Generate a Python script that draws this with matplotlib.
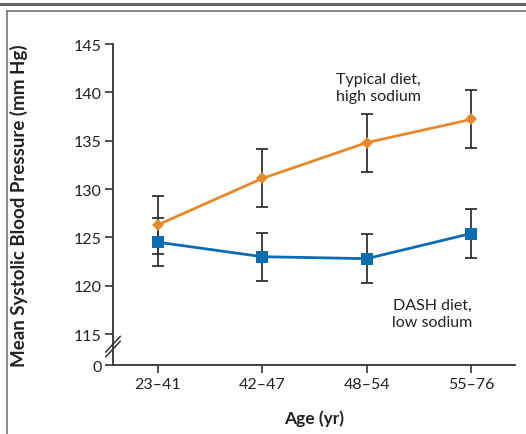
import matplotlib
matplotlib.use("Agg")
import matplotlib.pyplot as plt
from matplotlib.lines import Line2D

plt.rcParams['font.family'] = ['Lato', 'DejaVu Sans']

# ---- data ----
age_groups = ["23\u201341", "42\u201347", "48\u201354", "55\u201376"]
typical_high = [126.3, 131.1, 134.8, 137.2]
typical_err = [3.0, 3.0, 3.0, 3.0]
dash_low = [124.5, 123.0, 122.8, 125.4]
dash_err = [2.5, 2.5, 2.5, 2.5]
ytick_values = [115, 120, 125, 130, 135, 140, 145]
ytick_labels = ["115", "120", "125", "130", "135", "140", "145"]
zero_label = "0"

# position on the broken axis where the "0" baseline is drawn
BREAK_BASE = 111.8

orange = "#E38B2C"
blue = "#0A6CB1"
dark = "#333333"

fig = plt.figure(figsize=(5.26, 4.35), dpi=100)

# frame lines
fig.add_artist(Line2D([0, 1], [1 - 5/435, 1 - 5/435], color="#666666", lw=2.2))
fig.add_artist(Line2D([7/526, 1], [1 - 12/435, 1 - 12/435], color="#777777", lw=1.2))
fig.add_artist(Line2D([7/526, 7/526], [0, 1 - 12/435], color="#777777", lw=1.2))

ax = fig.add_axes([113/526, 69/435, 402/526, 321/435])
x = list(range(len(age_groups)))

ax.errorbar(x, typical_high, yerr=typical_err, fmt='none', ecolor=dark,
            elinewidth=1.3, capsize=4, capthick=1.3, zorder=2)
ax.errorbar(x, dash_low, yerr=dash_err, fmt='none', ecolor=dark,
            elinewidth=1.3, capsize=4, capthick=1.3, zorder=2)
ax.plot(x, typical_high, color=orange, lw=2, marker='D', markersize=6.5,
        markeredgewidth=0, zorder=3)
ax.plot(x, dash_low, color=blue, lw=2, marker='s', markersize=9,
        markeredgewidth=0, zorder=3)

ax.set_xlim(-0.43, 3.42)
ax.set_ylim(BREAK_BASE, 145)
ax.set_xticks(x)
ax.set_xticklabels(age_groups)
ax.set_yticks([BREAK_BASE] + ytick_values)
ax.set_yticklabels([zero_label] + ytick_labels)

for s in ["top", "right"]:
    ax.spines[s].set_visible(False)
for s in ["left", "bottom"]:
    ax.spines[s].set_color(dark)
    ax.spines[s].set_linewidth(1.3)
ax.tick_params(axis='both', colors=dark, labelcolor="#222222", labelsize=11.5,
               width=1.2, length=6, direction='out')
ax.tick_params(axis='x', pad=3)
ax.tick_params(axis='y', pad=2)

# axis break marks (two short parallel slashes across the y axis)
for dy in (-0.25, 0.25):
    ax.plot([-0.018, 0.018], [113.7 + dy - 0.8, 113.7 + dy + 0.8], color=dark,
            lw=1.1, transform=ax.get_yaxis_transform(), clip_on=False, zorder=5)

ax.set_ylabel("Mean Systolic Blood Pressure (mm Hg)", fontsize=13.5,
              fontweight='bold', color="#222222")
ax.set_xlabel("Age (yr)", fontsize=12.5, fontweight='bold', color="#222222",
              labelpad=13)
ax.yaxis.set_label_coords(-0.212, 0.5)

ax.text(2.11, 140.5, "Typical diet,\nhigh sodium", ha='center', va='center',
        fontsize=11.5, color="#222222", linespacing=1.3)
ax.text(2.63, 117.1, "DASH diet,\nlow sodium", ha='center', va='center',
        fontsize=11.5, color="#222222", linespacing=1.3)

fig.savefig("out.png", dpi=100)
